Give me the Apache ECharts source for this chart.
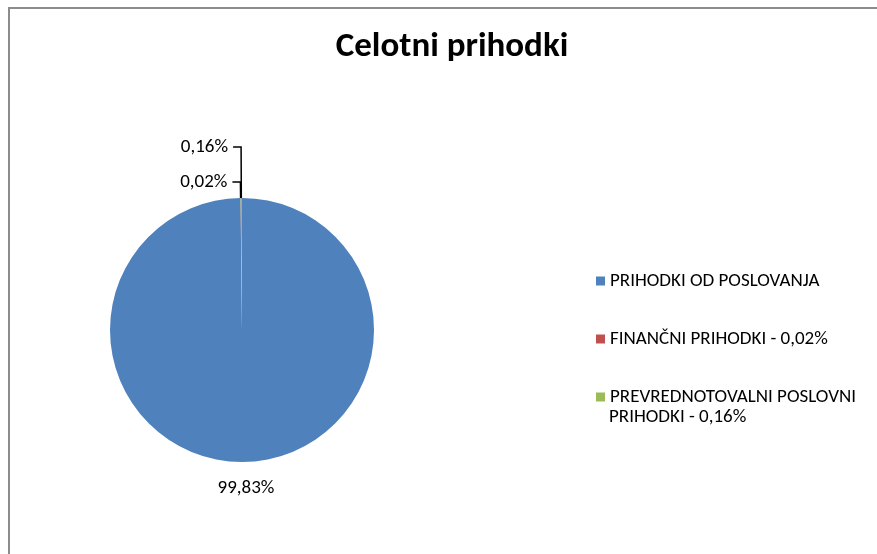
<!DOCTYPE html>
<html>
<head>
<meta charset="utf-8">
<script src="https://cdn.jsdelivr.net/npm/echarts@6/dist/echarts.min.js"></script>
<style>
  html, body { margin: 0; padding: 0; background: #fff; overflow: hidden; }
  .frame {
    position: absolute; left: 8px; top: 7px; width: 920px; height: 600px;
    border-left: 2px solid #8c8c8c; border-top: 2px solid #8c8c8c;
  }
  #chart { position: absolute; left: 0; top: 0; width: 877px; height: 554px; }
</style>
</head>
<body>
<div class="frame"></div>
<div id="chart"></div>
<script>
const categories = [
  "PRIHODKI OD POSLOVANJA",
  "FINANČNI PRIHODKI - 0,02%",
  "PREVREDNOTOVALNI POSLOVNI PRIHODKI - 0,16%"
];
const values = [99.83, 0.02, 0.16];
const labels = ["99,83%", "0,02%", "0,16%"];
const colors = ["#4F81BD", "#C0504D", "#9BBB59"];
// elbow lengths of the leader lines for the two thin slices
const lineLengths = [0, 16, 51];

const font = "Calibri, Carlito, 'Liberation Sans', Arial, sans-serif";

const myChart = echarts.init(document.getElementById("chart"));
const option = {
  animation: false,
  title: {
    text: "Celotni prihodki",
    left: 447,
    textAlign: "center",
    top: 25,
    textStyle: { fontFamily: font, fontSize: 35, fontWeight: "bold", color: "#000" }
  },
  legend: {
    orient: "vertical",
    left: 591,
    top: 265,
    itemWidth: 9,
    itemHeight: 9,
    itemGap: 36,
    icon: "rect",
    data: categories,
    formatter: (name) => name === categories[2] ? "PREVREDNOTOVALNI POSLOVNI" : name,
    textStyle: { fontFamily: font, fontSize: 19, color: "#000", lineHeight: 22 }
  },
  graphic: [
    {
      type: "text",
      left: 609,
      top: 408,
      style: { text: "PRIHODKI - 0,16%", font: "19px " + font, fill: "#000" }
    }
  ],
  series: [
    {
      type: "pie",
      center: [242, 330],
      radius: 132,
      startAngle: 90,
      clockwise: true,
      avoidLabelOverlap: false,
      data: categories.map((name, i) => ({
        name,
        value: values[i],
        itemStyle: { color: colors[i] },
        label: { formatter: labels[i] },
        labelLine: { show: i !== 0, length: lineLengths[i], length2: 8 }
      })),
      label: {
        position: "outside",
        fontFamily: font,
        fontSize: 19,
        color: "#000"
      },
      labelLine: {
        lineStyle: { color: "#000", width: 1.5 }
      },
      labelLayout: (params) => {
        if (params.dataIndex === 0) {
          return { x: 246, y: 488, align: "center", verticalAlign: "middle" };
        }
        return {};
      }
    }
  ]
};
myChart.setOption(option);
</script>
</body>
</html>
